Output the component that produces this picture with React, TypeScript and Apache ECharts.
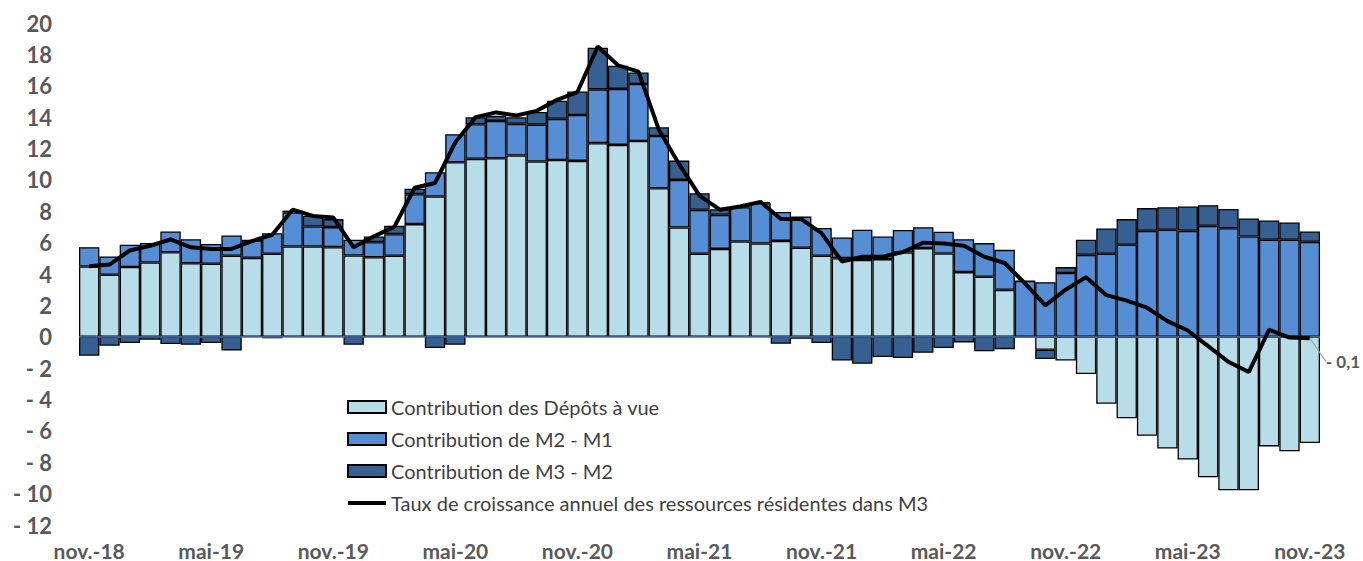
import React, { useEffect, useRef } from "react";
import * as echarts from "echarts";

const categories = [
  "nov.-18", "déc.-18",
  "janv.-19", "févr.-19", "mars-19", "avr.-19", "mai-19", "juin-19", "juil.-19", "août-19", "sept.-19", "oct.-19", "nov.-19", "déc.-19",
  "janv.-20", "févr.-20", "mars-20", "avr.-20", "mai-20", "juin-20", "juil.-20", "août-20", "sept.-20", "oct.-20", "nov.-20", "déc.-20",
  "janv.-21", "févr.-21", "mars-21", "avr.-21", "mai-21", "juin-21", "juil.-21", "août-21", "sept.-21", "oct.-21", "nov.-21", "déc.-21",
  "janv.-22", "févr.-22", "mars-22", "avr.-22", "mai-22", "juin-22", "juil.-22", "août-22", "sept.-22", "oct.-22", "nov.-22", "déc.-22",
  "janv.-23", "févr.-23", "mars-23", "avr.-23", "mai-23", "juin-23", "juil.-23", "août-23", "sept.-23", "oct.-23", "nov.-23",
];

const depotsAVue = [
  4.48, 3.95, 4.45, 4.73, 5.39, 4.69, 4.65, 5.16, 5.03, 5.29, 5.75, 5.75, 5.71, 5.18, 5.07, 5.16,
  7.18, 8.94, 11.12, 11.34, 11.38, 11.55, 11.17, 11.27, 11.21, 12.34, 12.23, 12.48, 9.47, 6.96,
  5.29, 5.6, 6.07, 5.94, 6.11, 5.67, 5.16, 5.01, 4.9, 4.95, 5.37, 5.65, 5.31, 4.12, 3.82, 2.99,
  0, -0.83, -1.51, -2.38, -4.27, -5.2, -6.31, -7.13, -7.83, -8.96, -9.79, -9.79, -6.99, -7.3, -6.77,
];

const m2MoinsM1 = [
  1.23, 1.17, 1.41, 1.25, 1.32, 1.53, 1.27, 1.29, 1.11, 1.31, 2.17, 1.28, 1.28, 1.0, 0.96, 1.38,
  1.91, 1.55, 1.79, 2.21, 2.38, 2.02, 2.35, 2.62, 2.93, 3.43, 3.57, 3.63, 3.33, 3.04,
  2.8, 2.17, 2.19, 2.57, 1.85, 1.99, 1.78, 1.32, 1.92, 1.44, 1.43, 1.33, 1.38, 2.1, 2.15, 2.55,
  3.55, 3.48, 4.06, 5.22, 5.29, 5.86, 6.75, 6.82, 6.75, 7.07, 6.92, 6.39, 6.18, 6.18, 6.05,
];

const m3MoinsM2 = [
  -1.21, -0.57, -0.4, -0.19, -0.47, -0.51, -0.4, -0.87, 0, -0.1, 0.12, 0.68, 0.51, -0.51, 0.36, 0.53,
  0.34, -0.72, -0.51, 0.44, 0.32, 0.42, 0.81, 1.16, 1.49, 2.66, 1.48, 0.73, 0.55, 1.23,
  1.06, 0.36, 0.08, 0.07, -0.45, -0.13, -0.4, -1.51, -1.72, -1.29, -1.36, -1.02, -0.72, -0.36, -0.93, -0.79,
  0, -0.59, 0.38, 0.96, 1.61, 1.64, 1.45, 1.44, 1.55, 1.32, 1.23, 1.15, 1.23, 1.1, 0.66,
];

const tauxCroissance = [
  4.5, 4.6, 5.5, 5.8, 6.2, 5.7, 5.6, 5.6, 6.1, 6.5, 8.1, 7.7, 7.6, 5.7, 6.4, 7.0,
  9.5, 9.8, 12.4, 14.0, 14.3, 14.1, 14.4, 15.1, 15.6, 18.5, 17.3, 16.9, 13.2, 11.0,
  9.0, 8.1, 8.3, 8.6, 7.5, 7.5, 6.6, 4.8, 5.1, 5.1, 5.4, 6.0, 5.95, 5.8, 5.1, 4.7,
  3.4, 2.0, 3.0, 3.8, 2.65, 2.3, 1.85, 1.0, 0.4, -0.6, -1.6, -2.25, 0.45, -0.05, -0.1,
];

const seriesNames = [
  "Contribution des Dépôts à vue",
  "Contribution de M2 - M1",
  "Contribution de M3 - M2",
  "Taux de croissance annuel des ressources résidentes dans M3",
];

const FONT = "Lato, 'Open Sans', sans-serif";

export default function App() {
  const ref = useRef<HTMLDivElement>(null);

  useEffect(() => {
    document.body.style.margin = "0";
    if (!ref.current) return;
    const chart = echarts.init(ref.current, null, { renderer: "svg" });
    const border = { borderColor: "#000", borderWidth: 1.3 };
    const last = tauxCroissance.length - 1;
    const lineData = tauxCroissance.map((v, i) =>
      i === last
        ? {
            value: v,
            label: { show: true },
            labelLine: { show: true },
          }
        : { value: v, symbolSize: 0 }
    );
    chart.setOption({
      animation: false,
      textStyle: { fontFamily: FONT },
      grid: { left: 79, right: 43, top: 23, bottom: 36, containLabel: false },
      legend: {
        orient: "vertical",
        left: 342,
        top: 392,
        itemWidth: 38,
        itemHeight: 12,
        itemGap: 12,
        textStyle: { color: "#404040", fontSize: 20, fontFamily: FONT, lineHeight: 20 },
        data: [
          { name: seriesNames[0], icon: "rect" },
          { name: seriesNames[1], icon: "rect" },
          { name: seriesNames[2], icon: "rect" },
          { name: seriesNames[3], icon: "path://M0,0 L40,0 L40,4 L0,4 Z" },
        ],
      },
      xAxis: {
        type: "category",
        data: categories,
        axisLine: { show: false },
        axisTick: { show: false },
        axisLabel: {
          interval: 5,
          color: "#595959",
          fontWeight: "bold",
          fontSize: 21,
          lineHeight: 18,
          fontFamily: FONT,
          margin: 16,
        },
      },
      yAxis: {
        type: "value",
        min: -12,
        max: 20,
        interval: 2,
        splitLine: { show: false },
        axisLine: { show: false },
        axisTick: { show: false },
        axisLabel: {
          color: "#595959",
          fontWeight: "bold",
          fontSize: 22,
          fontFamily: FONT,
          margin: 27,
          formatter: (v: number) => (v < 0 ? "- " + Math.abs(v) : String(v)),
        },
      },
      series: [
        {
          name: seriesNames[0],
          type: "bar",
          stack: "contrib",
          barCategoryGap: "0%",
          data: depotsAVue,
          itemStyle: { color: "#B7DEE8", ...border },
          markLine: {
            silent: true,
            symbol: ["none", "none"],
            label: { show: false },
            lineStyle: { color: "#4A6FA5", width: 1.5, type: "solid" },
            data: [{ yAxis: 0 }],
          },
        },
        {
          name: seriesNames[1],
          type: "bar",
          stack: "contrib",
          barCategoryGap: "0%",
          data: m2MoinsM1,
          itemStyle: { color: "#558ED5", ...border },
        },
        {
          name: seriesNames[2],
          type: "bar",
          stack: "contrib",
          barCategoryGap: "0%",
          data: m3MoinsM2,
          itemStyle: { color: "#376092", ...border },
        },
        {
          name: seriesNames[3],
          type: "line",
          data: lineData,
          showSymbol: true,
          symbol: "circle",
          symbolSize: 0,
          z: 10,
          color: "#000",
          lineStyle: { color: "#000", width: 4 },
          label: {
            show: false,
            position: "right",
            formatter: "- 0,1",
            color: "#595959",
            fontWeight: "bold",
            fontSize: 17,
            fontFamily: FONT,
          },
          labelLine: { show: false, length2: 17, lineStyle: { color: "#a6a6a6", width: 1.2 } },
          labelLayout: { dx: 11, dy: 23 },
        },
      ],
    });
    return () => chart.dispose();
  }, []);

  return <div ref={ref} style={{ width: 1363, height: 561 }} />;
}
